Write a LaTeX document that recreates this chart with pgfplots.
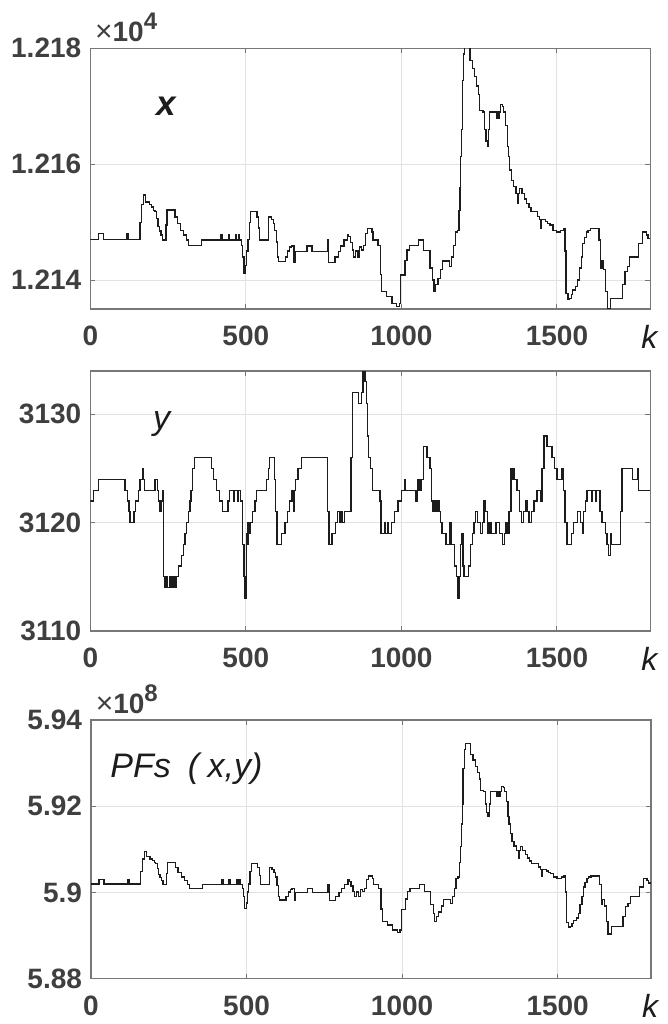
\documentclass[border=0pt]{standalone}
\usepackage{fontspec}
\setmainfont{Liberation Sans}
\usepackage{pgfplots}
\pgfplotsset{compat=1.18}
\definecolor{tickgray}{HTML}{3F3F3F}
\definecolor{framegray}{HTML}{777777}
\definecolor{gridgray}{HTML}{E2E2E2}
\definecolor{linecol}{HTML}{1C1C1C}

\pgfplotsset{
  myax/.style={
    scale only axis, width=280pt,
    xmin=0, xmax=1800, xtick={0,500,1000,1500},
    scaled x ticks=false,
    grid=major, major grid style={gridgray, line width=0.5pt},
    axis line style={framegray, line width=0.6pt},
    tick align=inside, major tick length=2.5pt,
    tick style={framegray, line width=0.5pt},
    /pgf/number format/assume math mode=true,
    /pgf/number format/1000 sep={},
    tick label style={font=\fontsize{14}{14}\selectfont\bfseries, text=tickgray},
    xticklabel style={yshift=-4.8pt},
    yticklabel style={xshift=-1pt},
    ytick scale label code/.code={},
  },
  myplot/.style={const plot, line width=0.65pt, color=linecol, mark=none},
}

\begin{document}
\begin{tikzpicture}
\useasboundingbox (0pt,0pt) rectangle (334pt,-512pt);

% ---------------- panel 1 : x ----------------
\begin{axis}[myax, name=ax1, at={(45.15pt,-24.15pt)}, anchor=north west,
  height=130.4pt, ymin=12135, ymax=12180, ytick={12140,12160,12180},
  scaled y ticks=base 10:-4,
  yticklabel style={/pgf/number format/fixed, /pgf/number format/precision=3}]
\addplot[myplot] coordinates {
(0,12147.0)(26,12148.0)(42,12147.0)(118,12148.0)(122,12147.0)(160,12150.0)(165,12153.0)
(172,12154.7)(178,12153.5)(190,12153.0)(197,12152.6)(203,12152.0)(208,12151.8)(213,12150.6)
(218,12149.2)(222,12148.5)(227,12147.8)(231,12146.9)(243,12149.5)(247,12152.1)(272,12150.9)
(280,12149.8)(290,12148.6)(300,12147.8)(310,12146.9)(316,12146.0)(358,12146.9)(420,12147.9)
(424,12146.9)(444,12147.9)(447,12146.9)(468,12147.9)(471,12146.9)(476,12147.9)(479,12146.9)
(487,12146.0)(490,12144.0)(494,12141.1)(499,12142.5)(503,12145.0)(507,12147.0)(511,12150.0)
(515,12151.9)(536,12150.9)(541,12149.0)(544,12146.9)(573,12150.9)(582,12150.4)(588,12149.8)
(593,12148.6)(598,12146.6)(602,12144.0)(606,12143.2)(627,12144.0)(634,12145.0)(641,12145.7)
(646,12145.9)(655,12143.0)(658,12144.9)(697,12145.9)(713,12144.9)(762,12146.9)(766,12143.0)
(787,12144.0)(797,12144.9)(805,12145.9)(815,12146.9)(826,12147.9)(831,12147.5)(836,12146.5)
(842,12145.2)(847,12144.0)(853,12145.0)(860,12144.0)(866,12145.7)(872,12145.2)(878,12146.0)
(885,12148.0)(891,12148.9)(905,12148.3)(909,12146.9)(925,12146.0)(932,12141.0)(936,12138.0)
(952,12137.2)(970,12136.0)(985,12135.4)(993,12136.0)(998,12140.9)(1012,12143.4)(1018,12145.2)
(1025,12146.0)(1056,12146.9)(1072,12145.1)(1092,12142.1)(1100,12140.0)(1105,12138.0)
(1110,12139.2)(1118,12140.3)(1126,12141.8)(1133,12143.3)(1155,12142.3)(1162,12144.0)
(1168,12146.0)(1173,12148.3)(1180,12148.6)(1185,12152.0)(1188,12156.0)(1190,12161.3)
(1193,12166.0)(1196,12174.5)(1200,12179.0)(1203,12180.5)(1220,12177.9)(1228,12176.5)
(1235,12175.1)(1242,12173.5)(1248,12172.0)(1251,12169.3)(1262,12169.0)(1268,12166.0)
(1272,12164.0)(1276,12163.0)(1280,12166.0)(1284,12169.0)(1305,12168.0)(1309,12169.0)
(1312,12168.0)(1315,12169.0)(1319,12170.3)(1325,12170.0)(1329,12169.0)(1335,12166.7)
(1340,12163.0)(1344,12161.3)(1348,12159.0)(1353,12157.2)(1360,12156.1)(1368,12155.0)
(1374,12153.2)(1377,12155.0)(1380,12155.8)(1388,12155.0)(1396,12154.0)(1402,12153.2)
(1410,12152.5)(1417,12151.8)(1438,12151.0)(1444,12150.4)(1448,12148.9)(1451,12150.4)
(1463,12150.1)(1470,12149.8)(1478,12149.5)(1487,12148.6)(1498,12148.3)(1512,12148.6)
(1520,12148.9)(1526,12145.0)(1529,12137.7)(1535,12136.6)(1540,12136.8)(1546,12137.5)
(1551,12138.3)(1560,12138.9)(1566,12140.0)(1572,12142.1)(1578,12144.0)(1583,12146.3)
(1588,12147.4)(1594,12148.3)(1600,12148.6)(1607,12148.9)(1635,12146.9)(1640,12142.1)
(1645,12143.3)(1650,12141.8)(1656,12138.0)(1662,12135.1)(1672,12136.8)(1710,12139.2)
(1719,12141.5)(1726,12142.3)(1733,12144.0)(1762,12146.3)(1776,12148.3)(1787,12147.8)
(1793,12147.2)(1800,12147.2)
};
\end{axis}

% ---------------- panel 2 : y ----------------
\begin{axis}[myax, name=ax2, at={(45.15pt,-185.5pt)}, anchor=north west,
  height=130pt, ymin=3110, ymax=3134, ytick={3110,3120,3130},
  scaled y ticks=false]
\addplot[myplot] coordinates {
(0,3122)(10,3123)(26,3124)(112,3123)(120,3122)(124,3121)(128,3120)(140,3121)(146,3122)
(154,3123)(160,3124)(167,3125)(170,3124)(174,3123)(208,3124)(216,3123)(219,3122)(224,3121)
(227,3122)(231,3123)(236,3115)(240,3114)(246,3115)(248,3114)(256,3115)(262,3114)(266,3115)
(272,3114)(276,3115)(283,3116)(294,3117)(299,3118)(304,3119)(310,3120)(315,3121)(320,3122)
(324,3123)(328,3125)(334,3126)(390,3125)(396,3124)(405,3123)(416,3122)(425,3121)(443,3122)
(448,3123)(462,3122)(464,3123)(474,3122)(476,3123)(482,3122)(490,3118)(494,3115)(497,3113)
(500,3115)(503,3119)(505,3118)(507,3120)(512,3119)(516,3120)(522,3121)(529,3122)(534,3123)
(567,3124)(572,3125)(577,3126)(591,3124)(595,3121)(600,3118)(615,3119)(626,3120)(634,3121)
(641,3122)(648,3123)(654,3121)(657,3123)(660,3124)(668,3125)(678,3126)(762,3121)(767,3118)
(777,3119)(788,3120)(794,3121)(800,3120)(806,3121)(810,3120)(816,3121)(838,3126)(842,3132)
(861,3131)(871,3132)(877,3134.5)(883,3133)(887,3131)(891,3128)(895,3126)(901,3125)(906,3123)
(931,3122)(934,3119)(946,3120)(948,3119)(957,3120)(959,3119)(969,3120)(978,3121)(989,3122)
(1000,3123)(1010,3124)(1012,3123)(1047,3122)(1050,3123)(1053,3124)(1056,3123)(1058,3124)
(1061,3123)(1064,3124)(1072,3127)(1082,3126)(1092,3125)(1097,3122)(1100,3121)(1104,3122)
(1108,3121)(1112,3122)(1116,3121)(1120,3122)(1123,3121)(1126,3120)(1130,3119)(1143,3118)
(1156,3120)(1159,3118)(1170,3116)(1176,3115)(1181,3113)(1185,3115)(1190,3118)(1194,3119)
(1198,3116)(1201,3115)(1215,3116)(1221,3118)(1228,3119)(1233,3120)(1238,3121)(1244,3120)
(1255,3119)(1260,3120)(1265,3122)(1270,3121)(1276,3119)(1282,3120)(1288,3119)(1304,3120)
(1315,3119)(1326,3118)(1332,3119)(1336,3120)(1340,3119)(1346,3121)(1352,3125)(1356,3124)
(1360,3125)(1364,3124)(1372,3123)(1380,3121)(1386,3120)(1392,3121)(1400,3122)(1405,3121)
(1410,3120)(1418,3121)(1426,3122)(1436,3123)(1448,3122)(1452,3125)(1458,3128)(1468,3127)
(1484,3126)(1492,3125)(1500,3124)(1516,3125)(1520,3123)(1526,3120)(1532,3118)(1546,3119)
(1554,3120)(1565,3121)(1575,3120)(1581,3119)(1586,3121)(1592,3122)(1597,3123)(1612,3122)
(1615,3123)(1625,3122)(1628,3123)(1638,3121)(1645,3120)(1655,3119)(1661,3118)(1666,3117)
(1671,3119)(1676,3118)(1704,3121)(1709,3125)(1742,3124)(1758,3125)(1762,3123)(1800,3123)
};
\end{axis}

% ---------------- panel 3 : PFs ----------------
\begin{axis}[myax, name=ax3, at={(45.5pt,-360pt)}, anchor=north west,
  height=129.4pt, ymin=5.88e8, ymax=5.94e8, ytick={5.88e8,5.9e8,5.92e8,5.94e8},
  scaled y ticks=base 10:-8,
  yticklabel style={/pgf/number format/fixed, /pgf/number format/precision=2}]
\addplot[myplot] coordinates {
(0,5.9020e8)(26,5.9030e8)(42,5.9020e8)(118,5.9030e8)(122,5.9020e8)(160,5.9049e8)(165,5.9078e8)
(172,5.9095e8)(178,5.9083e8)(190,5.9078e8)(197,5.9074e8)(203,5.9069e8)(208,5.9067e8)(213,5.9055e8)
(218,5.9041e8)(222,5.9035e8)(227,5.9028e8)(231,5.9019e8)(243,5.9044e8)(247,5.9070e8)(272,5.9058e8)
(280,5.9047e8)(290,5.9036e8)(300,5.9028e8)(310,5.9019e8)(316,5.9010e8)(358,5.9019e8)(420,5.9029e8)
(424,5.9019e8)(444,5.9029e8)(447,5.9019e8)(468,5.9029e8)(471,5.9019e8)(476,5.9029e8)(479,5.9019e8)
(487,5.9010e8)(490,5.8991e8)(494,5.8963e8)(499,5.8976e8)(503,5.9001e8)(507,5.9020e8)(511,5.9049e8)
(515,5.9068e8)(536,5.9058e8)(541,5.9039e8)(544,5.9019e8)(573,5.9058e8)(582,5.9053e8)(588,5.9047e8)
(593,5.9036e8)(598,5.9016e8)(602,5.8991e8)(606,5.8983e8)(627,5.8991e8)(634,5.9001e8)(641,5.9007e8)
(646,5.9009e8)(655,5.8981e8)(658,5.9000e8)(697,5.9009e8)(713,5.9000e8)(762,5.9019e8)(766,5.8981e8)
(787,5.8991e8)(797,5.9000e8)(805,5.9009e8)(815,5.9019e8)(826,5.9029e8)(831,5.9025e8)(836,5.9015e8)
(842,5.9003e8)(847,5.8991e8)(853,5.9001e8)(860,5.8991e8)(866,5.9007e8)(872,5.9003e8)(878,5.9010e8)
(885,5.9030e8)(891,5.9038e8)(905,5.9033e8)(909,5.9019e8)(925,5.9010e8)(932,5.8962e8)(936,5.8933e8)
(952,5.8925e8)(970,5.8913e8)(985,5.8907e8)(993,5.8913e8)(998,5.8961e8)(1012,5.8985e8)(1018,5.9003e8)
(1025,5.9010e8)(1056,5.9019e8)(1072,5.9002e8)(1092,5.8972e8)(1100,5.8952e8)(1105,5.8933e8)
(1110,5.8944e8)(1118,5.8955e8)(1126,5.8969e8)(1133,5.8984e8)(1155,5.8974e8)(1162,5.8991e8)
(1168,5.9010e8)(1173,5.9033e8)(1180,5.9036e8)(1185,5.9069e8)(1188,5.9107e8)(1190,5.9159e8)
(1193,5.9205e8)(1196,5.9287e8)(1200,5.9331e8)(1203,5.9346e8)(1220,5.9320e8)(1228,5.9307e8)
(1235,5.9293e8)(1242,5.9278e8)(1248,5.9263e8)(1251,5.9237e8)(1262,5.9234e8)(1268,5.9205e8)
(1272,5.9185e8)(1276,5.9176e8)(1280,5.9205e8)(1284,5.9234e8)(1305,5.9224e8)(1309,5.9234e8)
(1312,5.9224e8)(1315,5.9234e8)(1319,5.9246e8)(1325,5.9244e8)(1329,5.9234e8)(1335,5.9211e8)
(1340,5.9176e8)(1344,5.9159e8)(1348,5.9137e8)(1353,5.9119e8)(1360,5.9108e8)(1368,5.9098e8)
(1374,5.9080e8)(1377,5.9098e8)(1380,5.9106e8)(1388,5.9098e8)(1396,5.9088e8)(1402,5.9080e8)
(1410,5.9073e8)(1417,5.9067e8)(1438,5.9059e8)(1444,5.9053e8)(1448,5.9038e8)(1451,5.9053e8)
(1463,5.9050e8)(1470,5.9047e8)(1478,5.9044e8)(1487,5.9036e8)(1498,5.9033e8)(1512,5.9036e8)
(1520,5.9038e8)(1526,5.9001e8)(1529,5.8930e8)(1535,5.8919e8)(1540,5.8921e8)(1546,5.8928e8)
(1551,5.8935e8)(1560,5.8941e8)(1566,5.8952e8)(1572,5.8972e8)(1578,5.8991e8)(1583,5.9013e8)
(1588,5.9024e8)(1594,5.9033e8)(1600,5.9036e8)(1607,5.9038e8)(1635,5.9019e8)(1640,5.8972e8)
(1645,5.8984e8)(1650,5.8969e8)(1656,5.8933e8)(1662,5.8904e8)(1672,5.8921e8)(1710,5.8944e8)
(1719,5.8967e8)(1726,5.8974e8)(1733,5.8991e8)(1762,5.9013e8)(1776,5.9033e8)(1787,5.9028e8)
(1793,5.9022e8)(1800,5.9022e8)
};
\end{axis}

% ---------------- annotations ----------------
\newcommand{\sclab}[1]{{\fontsize{15}{15}\selectfont ×\fontsize{14}{14}\selectfont\bfseries 10\raisebox{6pt}{\fontsize{12}{12}\selectfont #1}}}
\node[anchor=base west, inner sep=0pt, text=tickgray] at ([xshift=2.2pt,yshift=3.2pt]ax1.north west) {\sclab{4}};
\node[anchor=base west, inner sep=0pt, text=tickgray] at ([xshift=2.2pt,yshift=3.3pt]ax3.north west) {\sclab{8}};

\node[anchor=base, inner sep=0pt, text=linecol] at ([xshift=38.2pt,yshift=-33.8pt]ax1.north west) {\fontsize{17.5}{17.5}\selectfont\bfseries\itshape x};
\node[anchor=base, inner sep=0pt, text=linecol] at ([xshift=35.6pt,yshift=-29.2pt]ax2.north west) {\fontsize{17}{17}\selectfont\itshape y};
\node[anchor=base west, inner sep=0pt, text=linecol] at ([xshift=9.5pt,yshift=-28.5pt]ax3.north west) {\fontsize{17}{17}\selectfont\itshape PFs\hspace{0.5em}(\hspace{0.25em}x,y)};

\foreach \a in {ax1,ax2,ax3} {
  \node[anchor=base west, inner sep=0pt, text=linecol] at ([xshift=-4.6pt,yshift=-19.5pt]\a.south east) {\fontsize{16}{16}\selectfont\itshape k};
}
\end{tikzpicture}
\end{document}
